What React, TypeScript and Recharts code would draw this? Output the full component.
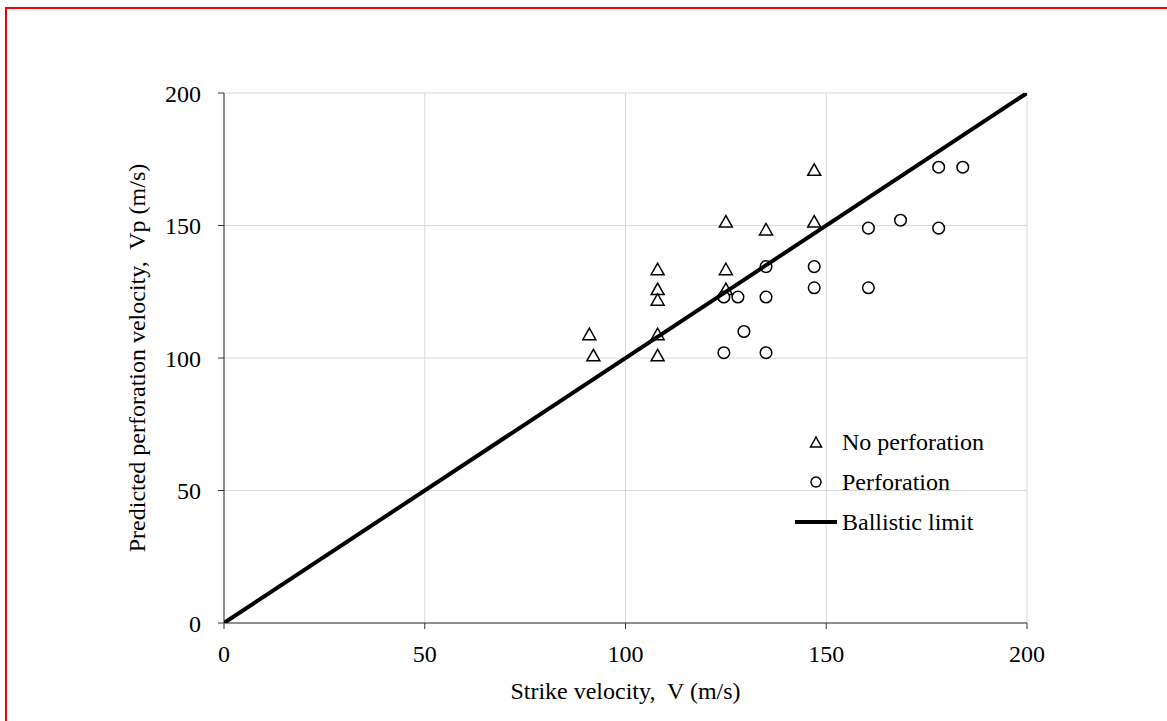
import React from 'react';
import {
  ScatterChart,
  Scatter,
  XAxis,
  YAxis,
  CartesianGrid,
} from 'recharts';

const axisTicks = [0, 50, 100, 150, 200];

const noPerfX = [147, 125, 147, 135, 108, 125, 108, 108, 125, 91, 108, 92, 108];
const noPerfY = [171, 151.5, 151.5, 148.5, 133.5, 133.5, 126, 122, 126, 109, 109, 101, 101];

const perfX = [135, 147, 147, 124.5, 128, 135, 129.5, 124.5, 135, 178, 184, 168.5, 160.5, 178, 160.5];
const perfY = [134.5, 134.5, 126.5, 123, 123, 123, 110, 102, 102, 172, 172, 152, 149, 149, 126.5];

const limitX = [0, 200];
const limitY = [0, 200];

const legendLabels = ['No perforation', 'Perforation', 'Ballistic limit'];

const noPerfData = noPerfX.map((x, i) => ({ x, y: noPerfY[i] }));
const perfData = perfX.map((x, i) => ({ x, y: perfY[i] }));
const limitData = limitX.map((x, i) => ({ x, y: limitY[i] }));

const FONT = "'Times New Roman', 'Liberation Serif', serif";
const FS = 24;

const Triangle = (props: any) => {
  const { cx, cy } = props;
  if (cx == null || cy == null) return <g />;
  const w = 6.5;
  return (
    <polygon
      points={`${cx},${cy - 6} ${cx - w},${cy + 5.5} ${cx + w},${cy + 5.5}`}
      fill="#fff"
      stroke="#000"
      strokeWidth={1.5}
    />
  );
};

const CircleMark = (props: any) => {
  const { cx, cy } = props;
  if (cx == null || cy == null) return <g />;
  return <circle cx={cx} cy={cy} r={5.8} fill="#fff" stroke="#000" strokeWidth={1.5} />;
};

const LegendBox = () => {
  return (
    <svg width={240} height={120} style={{ display: 'block' }}>
      {legendLabels.map((label, i) => {
        const cy = 22 + 40 * i;
        let marker: React.ReactNode = null;
        if (i === 0) {
          marker = (
            <polygon
              points={`26,${cy - 5} 20.5,${cy + 5} 31.5,${cy + 5}`}
              fill="#fff"
              stroke="#000"
              strokeWidth={1.5}
            />
          );
        } else if (i === 1) {
          marker = <circle cx={26} cy={cy} r={5} fill="#fff" stroke="#000" strokeWidth={1.5} />;
        } else {
          marker = <line x1={5} y1={cy} x2={47} y2={cy} stroke="#000" strokeWidth={4} />;
        }
        return (
          <g key={label}>
            {marker}
            <text x={52} y={cy + 8} fontFamily={FONT} fontSize={FS} fill="#000">
              {label}
            </text>
          </g>
        );
      })}
    </svg>
  );
};

const YLabel = () => {
  const cx = 137;
  const cy = 358;
  return (
    <text
      x={cx}
      y={cy}
      transform={`rotate(-90, ${cx}, ${cy})`}
      textAnchor="middle"
      dominantBaseline="central"
      fontFamily={FONT}
      fontSize={FS}
      fill="#000"
      style={{ whiteSpace: 'pre' }}
    >
      {'Predicted perforation velocity,  Vp (m/s)'}
    </text>
  );
};

const XLabel = (props: any) => {
  const vb = props.viewBox || { x: 224, y: 623, width: 803, height: 98 };
  const cx = vb.x + vb.width / 2;
  return (
    <text
      x={cx}
      y={699}
      textAnchor="middle"
      fontFamily={FONT}
      fontSize={FS}
      fill="#000"
      style={{ whiteSpace: 'pre' }}
    >
      {'Strike velocity,  V (m/s)'}
    </text>
  );
};

export default function App() {
  return (
    <div
      style={{
        position: 'absolute',
        left: 0,
        top: 0,
        width: 1167,
        height: 721,
        overflow: 'hidden',
        background: '#fff',
      }}
    >
      <div
        style={{
          position: 'absolute',
          left: 5,
          top: 7,
          width: 1200,
          height: 800,
          borderTop: '2px solid #ff0000',
          borderLeft: '2px solid #ff0000',
          boxSizing: 'border-box',
        }}
      />
      <div style={{ position: 'absolute', left: 0, top: 0 }}>
        <ScatterChart
          width={1167}
          height={721}
          margin={{ top: 93, right: 140, bottom: 0, left: 0 }}
        >
          <CartesianGrid stroke="#d9d9d9" strokeWidth={1} />
          <XAxis
            type="number"
            dataKey="x"
            domain={[0, 200]}
            ticks={axisTicks}
            allowDataOverflow
            stroke="#333"
            tickSize={6}
            tickMargin={16}
            height={98}
            tick={{ fontFamily: FONT, fontSize: FS, fill: '#000' }}
            label={<XLabel />}
          />
          <YAxis
            type="number"
            dataKey="y"
            domain={[0, 200]}
            ticks={axisTicks}
            allowDataOverflow
            stroke="#333"
            width={224}
            tickSize={6}
            tickMargin={17}
            tick={{ fontFamily: FONT, fontSize: FS, fill: '#000' }}
            label={<YLabel />}
          />
          <Scatter
            name="No perforation"
            data={noPerfData}
            shape={<Triangle />}
            isAnimationActive={false}
          />
          <Scatter
            name="Perforation"
            data={perfData}
            shape={<CircleMark />}
            isAnimationActive={false}
          />
          <Scatter
            name="Ballistic limit"
            data={limitData}
            line={{ stroke: '#000', strokeWidth: 4 }}
            shape={() => <g />}
            isAnimationActive={false}
          />
        </ScatterChart>
      </div>
      <div style={{ position: 'absolute', left: 790, top: 420 }}>
        <LegendBox />
      </div>
    </div>
  );
}
